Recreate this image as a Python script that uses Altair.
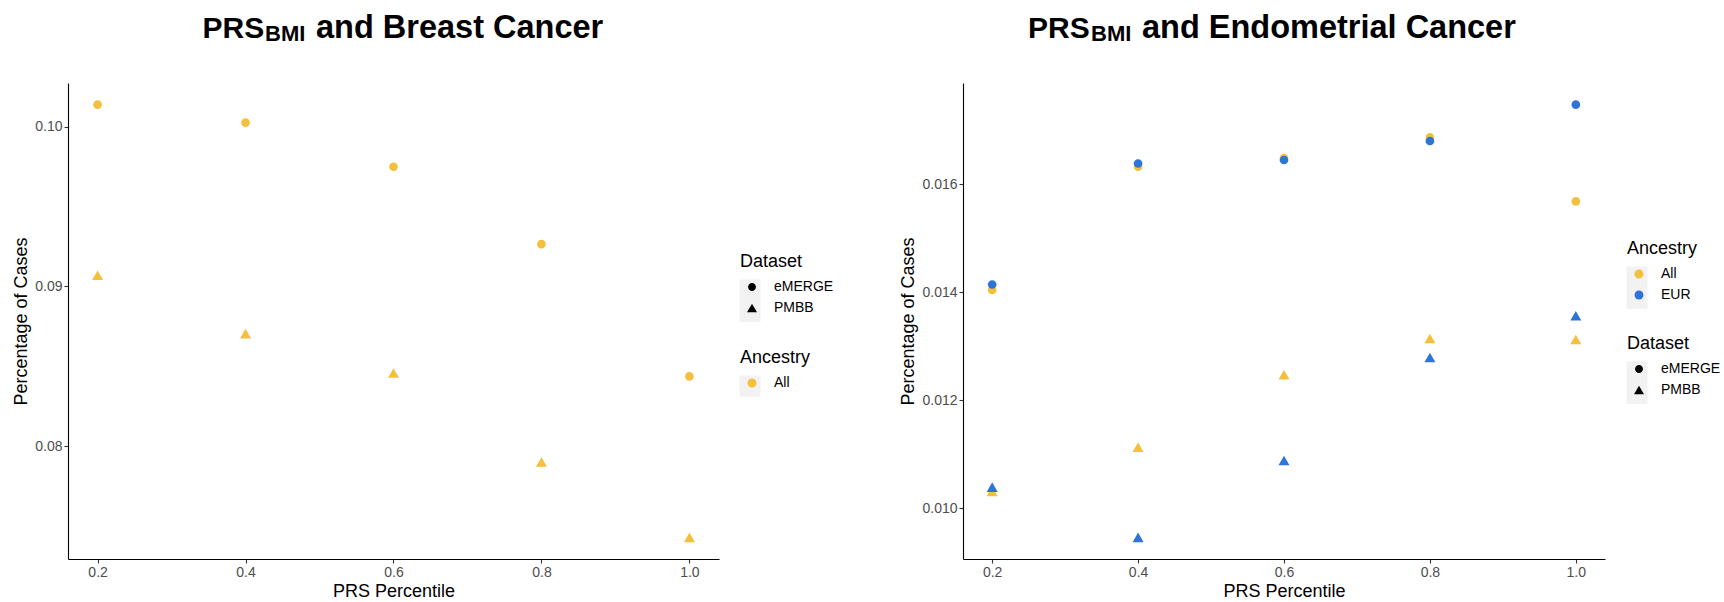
import altair as alt
import pandas as pd

# ---- data ----
percentile = [0.2, 0.4, 0.6, 0.8, 1.0]

breast_emerge_all = [0.10138, 0.10025, 0.09749, 0.09265, 0.08437]
breast_pmbb_all = [0.09070, 0.08705, 0.08458, 0.07902, 0.07430]

endo_emerge_all = [0.01404, 0.01632, 0.01648, 0.016863, 0.015678]
endo_emerge_eur = [0.01414, 0.01638, 0.016444, 0.016796, 0.017469]
endo_pmbb_all = [0.01031, 0.01113, 0.012468, 0.013141, 0.013122]
endo_pmbb_eur = [0.01039, 0.00946, 0.010883, 0.012789, 0.013561]

x_ticks = [0.2, 0.4, 0.6, 0.8, 1.0]
breast_y_ticks = [0.08, 0.09, 0.10]
endo_y_ticks = [0.010, 0.012, 0.014, 0.016]

datasets = ["eMERGE", "PMBB"]
ancestries = ["All", "EUR"]
anc_colors = ["#F5BF3E", "#2E74D8"]

FONT = "Liberation Sans"
KEY_BG = "#F2F2F2"
CIRCLE = "M0.79,0A0.79,0.79,0,1,1,-0.79,0A0.79,0.79,0,1,1,0.79,0Z"


def frame(series):
    rows = []
    for ds, anc, vals in series:
        for p, v in zip(percentile, vals):
            rows.append({"pct": p, "val": v, "Dataset": ds, "Ancestry": anc})
    return pd.DataFrame(rows)


breast_df = frame([
    ("eMERGE", "All", breast_emerge_all),
    ("PMBB", "All", breast_pmbb_all),
])
endo_df = frame([
    ("eMERGE", "All", endo_emerge_all),
    ("PMBB", "All", endo_pmbb_all),
    ("eMERGE", "EUR", endo_emerge_eur),
    ("PMBB", "EUR", endo_pmbb_eur),
])


def expand(vals):
    lo, hi = min(vals), max(vals)
    r = hi - lo
    return [lo - 0.05 * r, hi + 0.05 * r]


def legend_kw():
    return dict(
        orient="none",
        titleFont=FONT, titleFontSize=18, titleFontWeight="normal", titleColor="black",
        labelFont=FONT, labelFontSize=14, labelColor="black",
        titlePadding=9, rowPadding=7, labelOffset=15, symbolOffset=5,
        symbolStrokeWidth=0,
    )


def key_box(x0, x1, y0, y1):
    return alt.Chart(alt.Data(values=[{}])).mark_rect(color=KEY_BG).encode(
        x=alt.value(x0), x2=alt.value(x1), y=alt.value(y0), y2=alt.value(y1))


def title_piece(x, y, size, txt):
    return alt.Chart(alt.Data(values=[{}])).mark_text(
        font=FONT, fontSize=size, fontWeight="bold", align="left",
        baseline="alphabetic", color="black").encode(
        x=alt.value(x), y=alt.value(y), text=alt.value(txt))


def panel(df, yticks, yfmt, anc_dom, title_main, w, pos, leg_shape, leg_color):
    xdom = expand(percentile)
    ydom = expand(df["val"].tolist())
    cols = anc_colors[: len(anc_dom)]
    pts = alt.Chart(df).mark_point(filled=True, opacity=1, size=121, strokeWidth=0).encode(
        x=alt.X("pct:Q", title="PRS Percentile",
                scale=alt.Scale(domain=xdom, nice=False, zero=False),
                axis=alt.Axis(values=x_ticks, format=".1f")),
        y=alt.Y("val:Q", title="Percentage of Cases",
                scale=alt.Scale(domain=ydom, nice=False, zero=False),
                axis=alt.Axis(values=yticks, format=yfmt)),
        shape=alt.Shape("Dataset:N",
                        scale=alt.Scale(domain=datasets, range=[CIRCLE, "triangle-up"]),
                        legend=alt.Legend(legendX=leg_shape[0], legendY=leg_shape[1],
                                          symbolSize=100, symbolFillColor="black",
                                          **legend_kw())),
        color=alt.Color("Ancestry:N",
                        scale=alt.Scale(domain=anc_dom, range=cols),
                        legend=alt.Legend(legendX=leg_color[0], legendY=leg_color[1],
                                          symbolType="circle", symbolSize=80,
                                          **legend_kw())),
    )
    # grey legend-key backgrounds (ggplot style)
    kx0 = leg_shape[0] - 0.5
    kx1 = kx0 + 21
    row = 21.3
    top_off = 26.5
    box_shape = key_box(kx0, kx1, leg_shape[1] + top_off, leg_shape[1] + top_off + row * 2)
    box_color = key_box(kx0, kx1, leg_color[1] + top_off,
                        leg_color[1] + top_off + row * len(anc_dom))
    t1 = title_piece(pos[0], -45, 30, "PRS")
    t2 = title_piece(pos[1], -42, 22, "BMI")
    t3 = title_piece(pos[2], -45, 32.5, title_main)
    return alt.layer(box_shape, box_color, pts, t1, t2, t3).properties(width=w, height=476)


left = panel(breast_df, breast_y_ticks, ".2f", ["All"], "and Breast Cancer", 651,
             (134.5, 197, 248), (672, 170), (672, 266))
right = panel(endo_df, endo_y_ticks, ".3f", ["All", "EUR"], "and Endometrial Cancer", 642,
              (65, 128, 179), (664, 252), (664, 157))

chart = alt.hconcat(left, right, spacing=244, bounds="flush").resolve_scale(
    color="independent", shape="independent", x="independent", y="independent"
).resolve_legend(color="independent", shape="independent").properties(
    padding={"left": 12, "top": 12, "right": 0, "bottom": 0}
).configure_view(stroke=None).configure_axis(
    grid=False,
    domainColor="black", domainWidth=1.1,
    tickColor="#333333", tickSize=4, tickWidth=1.1,
    labelFont=FONT, labelFontSize=14, labelColor="#4D4D4D",
    titleFont=FONT, titleFontSize=18, titleFontWeight="normal", titleColor="black",
).configure_axisX(titlePadding=3).configure_axisY(titlePadding=4)

chart.save("out.html", embed_options={"renderer": "svg", "actions": False})
